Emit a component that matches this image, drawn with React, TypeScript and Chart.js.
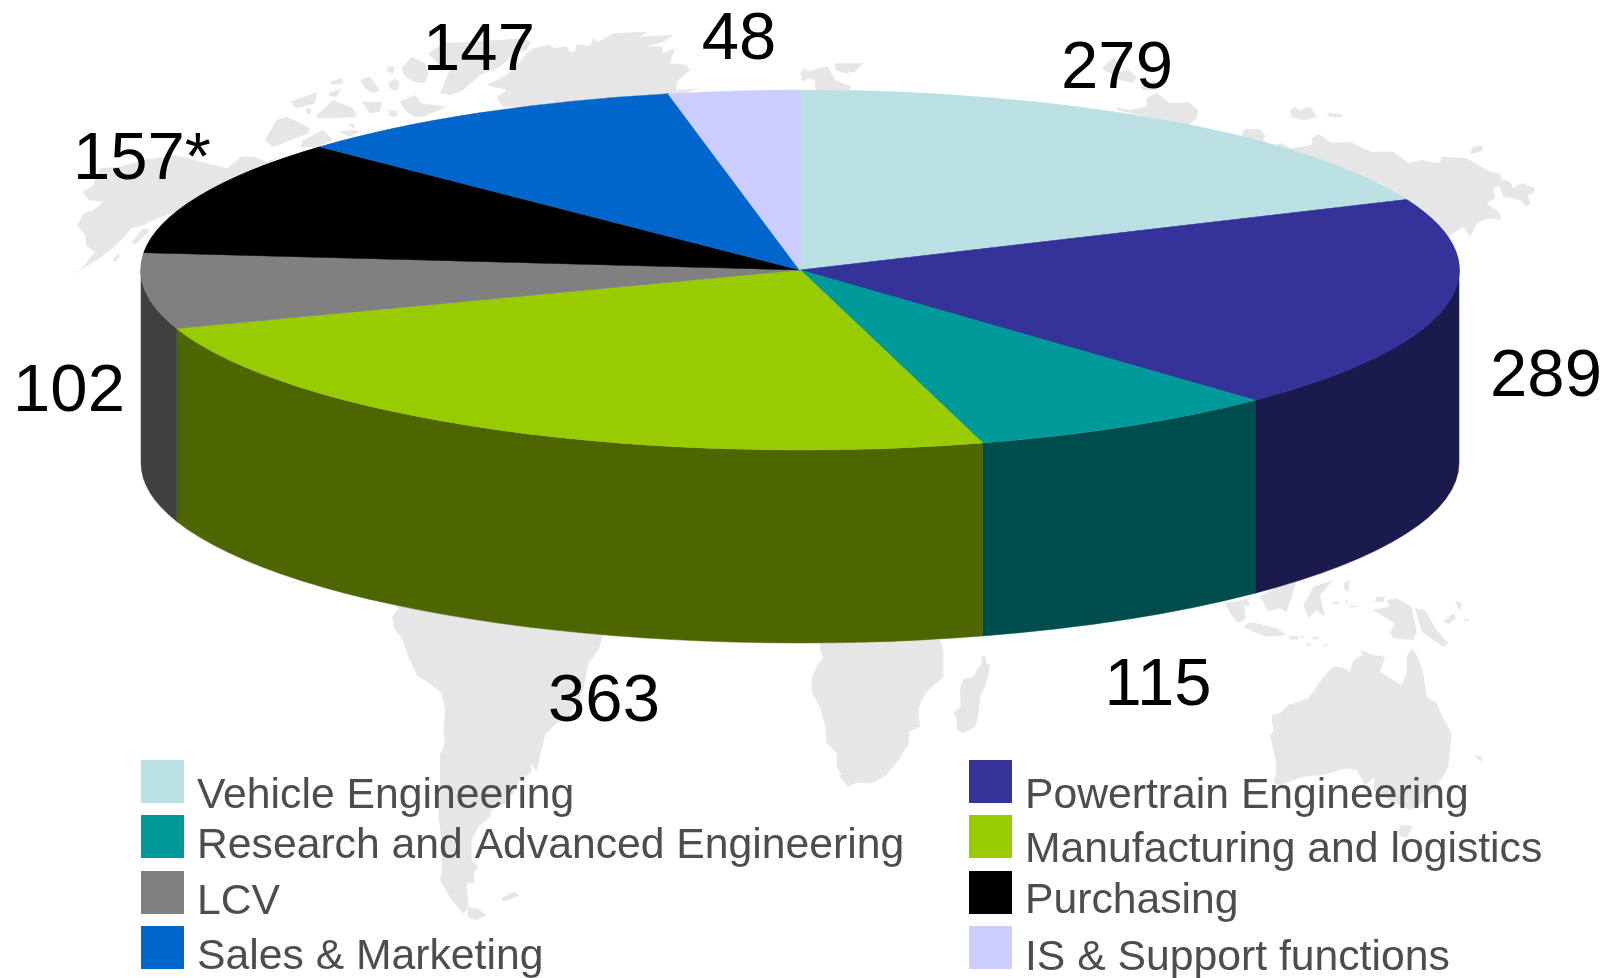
import React, { useEffect, useRef } from "react";
import { Chart, registerables } from "chart.js";

Chart.register(...registerables);

const categories = [
  "Vehicle Engineering",
  "Powertrain Engineering",
  "Research and Advanced Engineering",
  "Manufacturing and logistics",
  "LCV",
  "Purchasing",
  "Sales & Marketing",
  "IS & Support functions",
];
const values = [279, 289, 115, 363, 102, 157, 147, 48];
const labelSuffixes = ["", "", "", "", "", "*", "", ""];
const topColors = ["#BAE0E3", "#333399", "#009999", "#99CC00", "#808080", "#000000", "#0066CC", "#CCCCFF"];
const sideColors = ["#5D7072", "#1A1A4D", "#004D4D", "#4D6600", "#404040", "#000000", "#003366", "#666680"];

// Positions of the value labels: centre x, baseline y.
const labelPositions = [
  [1117, 88], [1546, 396], [1158, 705], [604, 721],
  [69, 411], [142, 179], [479, 70], [739, 59],
];

const FONT = '"Liberation Sans", Arial, sans-serif';
const CANVAS_W = 1610;
const CANVAS_H = 978;
const PIE_RY = 180;
const PIE_RX = 659;
const PIE_DEPTH = 193;

// Legend layout.
const legendColumns = [
  { swatchX: 141, textX: 197 },
  { swatchX: 969, textX: 1025 },
];
const legendSwatchY = [760, 815, 871, 926];
const legendBaselines = [
  [808, 858, 914, 969],
  [808, 862, 913, 970],
];
const SWATCH = 43;

// Decorative world map behind the chart: [originX, originY, polygons in 3x units].
const mapGroups: [number, number, number[][]][] = [
  [60, 60, [
    [15,648,70,625,125,590,175,550,215,505,245,498,280,480,500,400,660,290,620,305,580,290,545,290,500,325,420,305,345,285,250,300,180,320,120,325,100,375,68,395,85,420,130,425,100,450,70,460,52,495,75,525,80,558,105,575,65,625],
    [215,545,250,505,270,510,225,555],
    [158,600,175,580,180,590,165,605],
    [615,240,650,180,680,170,750,205,745,220,680,245,640,262],
    [690,125,770,97,765,130,710,145],
    [770,165,820,120,880,145,890,170,830,175,770,175],
    [738,140,755,150,750,165,740,160],
    [805,100,845,85,830,110,810,110],
    [810,65,845,55,850,70,815,75],
    [900,60,930,50,960,90,940,100,915,85],
    [905,125,965,125,960,155,930,160],
    [990,65,1015,60,1015,90,995,90],
    [985,160,1012,150,1010,170,995,170],
    [730,240,790,210,820,240,770,262,720,262],
    [835,215,880,210,900,215,870,230],
    [860,195,880,190,885,205],
  ]],
  [300, 10, [
    [560,225,610,200,640,180,680,130,700,115,745,105,765,115,800,108,808,125,825,125,830,103,870,108,880,85,895,95,940,70,1045,65,1020,80,1120,75,1090,95,1040,110,1090,110,1085,130,1125,115,1110,160,1160,165,1170,180,1130,215,1130,240,1200,235,1100,265,800,290,610,290,590,262,620,240],
    [385,130,430,100,600,90,670,85,692,95,680,120,640,135,600,170,540,195,490,240,455,255,420,250,440,200,455,175,430,170,410,160],
    [305,175,335,140,375,160,385,190,375,220,340,215,310,195],
    [260,170,285,170,280,190,262,185],
    [265,220,285,205,300,225,290,240,270,235],
    [300,275,345,255,365,280,440,290,370,320,340,320,315,300],
    [265,300,295,305,270,320],
  ]],
  [1180, 120, [
    [185,45,195,28,240,28,255,45,245,60,280,75,305,70,335,85,395,75,395,55,415,42,455,68,510,66,575,95,640,95,685,130,725,120,765,128,780,128,785,110,860,115,930,155,962,162,965,178,990,185,1000,205,1025,190,1065,203,1060,218,1042,225,1052,250,1040,260,1020,240,970,230,958,198,940,205,945,235,920,250,960,280,962,300,925,295,892,308,870,352,850,320,820,340,800,355,700,300,500,200,300,120],
    [870,100,880,80,905,75,910,90,890,100],
  ]],
  [780, 50, [
    [60,70,75,55,85,65,115,55,145,50,165,90,215,110,205,120,105,120,105,90,85,85,68,95],
    [165,40,250,40,225,65,195,70,165,60],
    [965,55,1005,20,1020,65,1045,60,1070,80,1060,100,1020,90,990,70],
    [1080,110,1125,90,1130,120,1090,120],
    [1010,180,1015,172,1045,180,1100,170,1100,145,1130,128,1170,160,1225,155,1255,180,1250,205,1225,225,1100,200],
    [1385,255,1395,236,1440,240,1455,260,1445,275,1390,260],
  ]],
  [1280, 100, [
    [30,30,45,21,63,33,78,21,93,24,111,51,72,60,33,51],
    [138,39,186,42,186,51,150,51],
  ]],
  [380, 600, [
    [40,10,55,25,37,50,40,80,65,115,85,170,110,225,140,245,185,280,195,330,190,390,195,430,180,465,180,550,175,650,185,720,185,810,180,840,215,900,250,940,265,925,262,950,290,960,320,945,290,925,265,920,260,850,285,850,280,820,295,800,275,780,275,720,295,680,330,650,335,630,385,605,420,540,455,515,455,490,470,515,495,405,530,370,570,345,610,270,625,190,655,150,670,105,600,90],
    [365,895,390,880,405,875,418,887,390,897,370,905],
  ]],
  [800, 630, [
    [60,30,60,60,70,85,55,100,35,145,35,185,60,235,75,285,80,340,110,370,110,410,125,435,115,435,145,470,170,458,215,460,260,435,300,385,310,365,325,345,328,305,360,290,355,240,365,210,385,180,430,140,430,60,420,30],
    [545,80,555,78,560,100,570,105,565,135,553,175,540,200,535,260,525,290,490,310,470,300,470,265,460,250,482,230,480,175,490,148,520,140,530,120,545,100],
  ]],
  [1210, 580, [
    [185,405,210,400,235,375,295,355,320,320,340,290,370,260,395,262,420,275,430,240,460,225,450,210,490,225,525,230,510,275,540,295,575,315,590,280,590,230,605,205,620,225,640,280,650,350,680,370,695,405,725,460,715,560,680,620,650,660,600,690,570,675,515,650,490,630,495,590,465,615,440,570,410,565,340,585,280,590,210,615,190,610,200,575,195,530,180,465,190,455],
    [570,735,608,738,590,775,565,765],
    [795,525,815,530,815,545,800,535],
    [100,140,120,125,200,145,230,165,170,170,130,155],
    [45,70,100,60,108,115,85,130,60,100],
    [95,60,110,55,120,75,108,80],
    [150,50,200,20,260,5,230,95,205,85,175,95],
    [280,75,300,40,310,20,370,0,330,45,345,110,320,90,295,115],
    [400,10,420,0,415,35,405,30],
    [365,65,390,65,385,72,368,72],
    [405,60,415,62,410,75],
    [420,75,450,80,420,82],
    [500,50,525,50,520,65,495,65],
    [488,90,540,80,530,60,560,55,605,80,620,155,610,180,550,175,540,160,555,130],
    [615,85,645,90,680,150,715,190,700,200,670,180,635,155],
    [735,60,755,70,750,95],
    [700,125,730,100,738,115,715,132],
    [762,115,780,122,765,125],
    [238,168,265,168,265,178,238,178],
    [270,165,285,170,275,175],
    [300,170,330,172,318,180],
    [290,190,305,190,295,200],
    [340,195,355,190,345,202],
  ]],
];

const mapPlugin = {
  id: "worldMap",
  beforeDraw(chart: any) {
    const { ctx } = chart;
    ctx.save();
    ctx.fillStyle = "#E6E6E6";
    for (const [ox, oy, polys] of mapGroups) {
      for (const p of polys) {
        ctx.beginPath();
        for (let i = 0; i < p.length; i += 2) {
          const x = ox + p[i] / 3;
          const y = oy + p[i + 1] / 3;
          if (i === 0) ctx.moveTo(x, y);
          else ctx.lineTo(x, y);
        }
        ctx.closePath();
        ctx.fill();
      }
    }
    ctx.restore();
  },
};

const pie3dPlugin = {
  id: "pie3d",
  beforeDatasetsDraw(chart: any) {
    const { ctx } = chart;
    const arcs = chart.getDatasetMeta(0).data;
    const cx = arcs[0].x;
    const cy = arcs[0].y;
    const r = arcs[0].outerRadius;
    const sx = PIE_RX / r;
    ctx.save();
    arcs.forEach((arc: any, i: number) => {
      const a = Math.max(arc.startAngle, 0);
      const b = Math.min(arc.endAngle, Math.PI);
      if (b <= a) return;
      ctx.beginPath();
      ctx.ellipse(cx, cy, PIE_RX, r, 0, a, b);
      ctx.ellipse(cx, cy + PIE_DEPTH, PIE_RX, r, 0, b, a, true);
      ctx.closePath();
      ctx.fillStyle = sideColors[i];
      ctx.strokeStyle = sideColors[i];
      ctx.lineWidth = 0.5;
      ctx.fill();
      ctx.stroke();
    });
    ctx.restore();
    // The library draws the arcs next, flattened into an ellipse.
    ctx.save();
    ctx.translate(cx, cy);
    ctx.scale(sx, 1);
    ctx.translate(-cx, -cy);
  },
  afterDatasetsDraw(chart: any) {
    chart.ctx.restore();
  },
};

const annotationPlugin = {
  id: "pieText",
  afterDraw(chart: any) {
    const { ctx } = chart;
    ctx.save();
    ctx.textBaseline = "alphabetic";
    // Value labels
    ctx.font = `67px ${FONT}`;
    ctx.fillStyle = "#000000";
    ctx.textAlign = "center";
    values.forEach((v, i) => {
      const [x, y] = labelPositions[i];
      ctx.fillText(`${v}${labelSuffixes[i]}`, x, y);
    });
    // Legend, two columns
    ctx.font = `42.7px ${FONT}`;
    ctx.textAlign = "left";
    categories.forEach((name, i) => {
      const col = i % 2;
      const row = Math.floor(i / 2);
      const c = legendColumns[col];
      ctx.fillStyle = topColors[i];
      ctx.fillRect(c.swatchX, legendSwatchY[row], SWATCH, SWATCH);
      ctx.fillStyle = "#4D4D4D";
      ctx.fillText(name, c.textX, legendBaselines[col][row]);
    });
    ctx.restore();
  },
};

export default function App() {
  const ref = useRef<HTMLCanvasElement>(null);
  useEffect(() => {
    document.body.style.margin = "0";
    const chart = new Chart(ref.current!, {
      type: "pie",
      data: {
        labels: categories,
        datasets: [
          {
            data: values,
            backgroundColor: topColors,
            borderColor: topColors,
            borderWidth: 0.4,
            clip: false,
          } as any,
        ],
      },
      options: {
        responsive: false,
        animation: false,
        events: [],
        radius: PIE_RY,
        rotation: 0,
        layout: { padding: { left: 0, right: 10, top: 0, bottom: 438 } },
        plugins: {
          legend: { display: false },
          tooltip: { enabled: false },
        },
      } as any,
      plugins: [mapPlugin, pie3dPlugin, annotationPlugin],
    });
    return () => chart.destroy();
  }, []);
  return (
    <canvas
      ref={ref}
      width={CANVAS_W}
      height={CANVAS_H}
      style={{ display: "block", position: "absolute", left: 0, top: 0 }}
    />
  );
}
